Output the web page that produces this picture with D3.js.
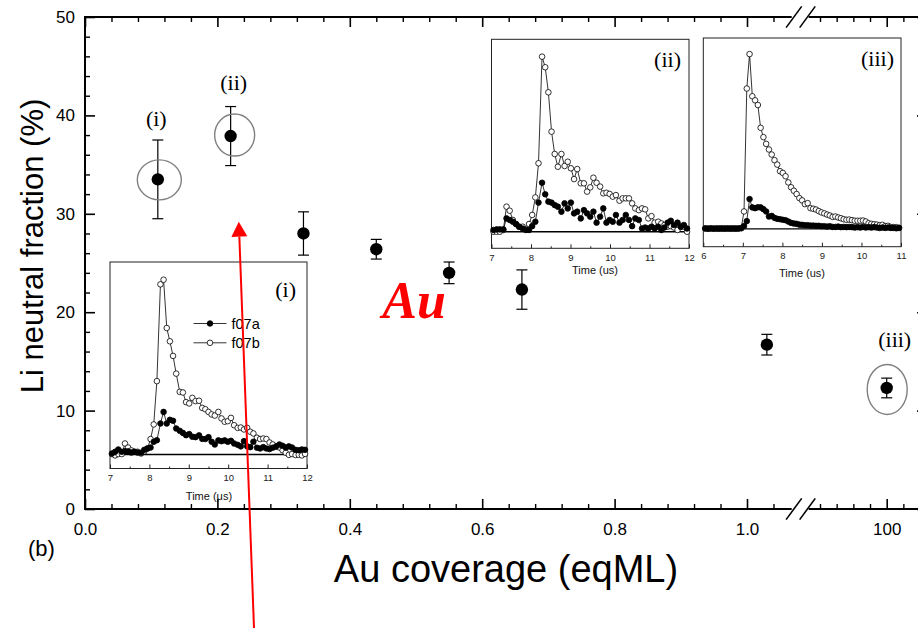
<!DOCTYPE html>
<html>
<head>
<meta charset="utf-8">
<script src="https://cdn.jsdelivr.net/npm/d3@7"></script>
<style>
  body { margin: 0; background: #fff; }
  svg { display: block; }
</style>
</head>
<body>
<svg id="chart" width="918" height="628"></svg>
<script>
// ---- Li neutral fraction versus Au coverage ----
const coverage = [0.11, 0.22, 0.33, 0.44, 0.55, 0.66, 1.03, 100];
const neutralFraction = [33.5, 37.9, 28.0, 26.4, 24.0, 22.3, 16.7, 12.3];
const fractionError = [4.0, 3.0, 2.2, 1.0, 1.1, 2.0, 1.05, 1.0];
const markedPoints = [0, 1, 7];
const markedLabels = ["(i)", "(ii)", "(iii)"];

const yTicks = [0, 10, 20, 30, 40, 50];
const xTicksLow = [0.0, 0.2, 0.4, 0.6, 0.8, 1.0];
const xTickLabelsLow = ["0.0", "0.2", "0.4", "0.6", "0.8", "1.0"];
const xTicksHigh = [100];
const xTickLabelsHigh = ["100"];
const xMinorHigh = [80, 85, 90, 95, 105, 110];

// ---- time-of-flight spectra (arb. units) ----
const timeA = [7.05, 7.13, 7.21, 7.30, 7.38, 7.46, 7.54, 7.62, 7.70, 7.79,
  7.87, 7.95, 8.03, 8.11, 8.19, 8.28, 8.36, 8.44, 8.52, 8.60,
  8.68, 8.77, 8.85, 8.93, 9.01, 9.09, 9.17, 9.26, 9.34, 9.42,
  9.50, 9.58, 9.66, 9.75, 9.83, 9.91, 9.99, 10.07, 10.15, 10.24,
  10.32, 10.40, 10.48, 10.56, 10.64, 10.73, 10.81, 10.89, 10.97, 11.05,
  11.13, 11.22, 11.30, 11.38, 11.46, 11.54, 11.62, 11.71, 11.79, 11.87, 11.95];

const f07aI = [0.5, 1.4, 2.6, 1.4, 1.7, 1.6, 1.0, 1.4, 1.0, 0.9,
  2.4, 3.1, 3.6, 6.6, 7.4, 16.1, 22.1, 16.1, 18.0, 17.5,
  13.5, 12.3, 11.2, 10.0, 10.6, 9.2, 9.0, 9.9, 8.1, 8.0,
  9.0, 6.6, 5.2, 7.3, 6.9, 7.3, 6.6, 7.1, 5.7, 5.0,
  4.2, 6.9, 4.2, 3.8, 6.6, 3.5, 3.1, 3.8, 3.1, 2.8,
  3.5, 4.2, 5.2, 4.5, 3.6, 4.2, 3.6, 2.4, 2.2, 2.6, 2.4];
const f07bI = [0.2, -0.5, 0.2, 0.2, 5.7, 3.6, 2.1, 1.4, 1.4, 0.5,
  1.6, 3.1, 8.0, 15.6, 38.1, 88.4, 90.8, 65.7, 58.8, 51.2,
  42.0, 32.5, 32.2, 27.2, 26.5, 29.4, 27.7, 27.9, 24.2, 23.5,
  22.1, 20.8, 20.2, 22.1, 18.7, 17.0, 17.3, 19.0, 15.2, 13.8,
  14.0, 13.0, 13.8, 11.8, 10.9, 8.7, 8.0, 8.3, 8.0, 6.2,
  5.2, 4.0, 3.6, 2.2, 0.9, -0.2, 0.2, -0.3, -0.2, -0.5, 0.3];

const f07aII = [0.9, 1.2, 1.2, 1.2, 6.9, 6.1, 5.2, 4.0, 2.6, 1.7,
  0.9, 0.9, 2.9, 5.2, 15.1, 25.4, 19.4, 15.6, 15.1, 13.8,
  13.0, 10.4, 14.7, 12.1, 15.1, 9.5, 10.4, 6.9, 11.2, 9.5,
  7.8, 10.4, 4.7, 7.8, 12.1, 4.7, 6.1, 5.2, 8.7, 4.7,
  6.1, 8.7, 6.1, 2.9, 6.9, 6.1, 1.7, 2.2, 1.7, 2.6,
  1.7, 2.6, 0.9, 2.2, 4.7, 5.7, 3.5, 4.7, 2.6, 3.5, 1.7];
const f07bII = [0, 0, 0, 0.9, 13.0, 10.9, 6.1, 4.0, 2.6, 2.6,
  1.2, 4.0, 8.7, 17.8, 35.5, 90.8, 85.3, 72.3, 51.9, 40.3,
  33.7, 40.3, 34.1, 36.3, 32.9, 27.3, 32.5, 25.1, 25.1, 20.8,
  23.0, 28.0, 25.4, 23.4, 19.9, 20.2, 19.6, 18.2, 19.0, 16.1,
  17.3, 17.3, 17.3, 14.7, 12.1, 11.2, 12.1, 11.6, 6.9, 8.1,
  4.7, 5.2, 4.3, 3.5, 2.6, 2.9, 2.2, 0.9, 2.6, 2.6, 0];

const timeB = [6.05, 6.12, 6.19, 6.26, 6.33, 6.40, 6.47, 6.54, 6.61, 6.68,
  6.75, 6.82, 6.89, 6.96, 7.03, 7.10, 7.17, 7.24, 7.31, 7.38,
  7.45, 7.52, 7.59, 7.66, 7.73, 7.80, 7.87, 7.94, 8.01, 8.08,
  8.15, 8.22, 8.29, 8.36, 8.43, 8.50, 8.57, 8.64, 8.71, 8.78,
  8.85, 8.92, 8.99, 9.06, 9.13, 9.20, 9.27, 9.34, 9.41, 9.48,
  9.55, 9.62, 9.69, 9.76, 9.83, 9.90, 9.97, 10.04, 10.11, 10.18,
  10.25, 10.32, 10.39, 10.46, 10.53, 10.60, 10.67, 10.74, 10.81, 10.88, 10.95];

const f07aIII = [0.2, 0.1, 0.2, 0.1, 0.2, 0.1, 0.2, 0.1, 0.2, 0.1,
  0.2, 0.1, 0.2, 0.3, 1.5, 4.0, 15.4, 11.1, 10.7, 11.2,
  11.1, 10.2, 9.0, 6.4, 6.7, 5.7, 5.2, 5.0, 4.7, 4.5,
  3.8, 3.1, 2.8, 2.6, 2.2, 2.1, 1.9, 1.9, 1.7, 1.7,
  1.6, 1.6, 1.4, 1.4, 1.2, 1.4, 1.0, 1.0, 1.2, 0.9,
  1.0, 0.9, 1.0, 0.9, 0.7, 0.9, 0.7, 1.0, 0.7, 0.9,
  0.7, 0.9, 0.7, 0.5, 0.7, 0.5, 0.7, 0.5, 0.5, 0.3, 0.5];
const f07bIII = [0.3, 0.2, 0.3, 0.2, 0.2, 0.3, 0.2, 0.3, 0.2, 0.3,
  0.2, 0.3, 0.2, 0.5, 9.0, 72.5, 90.3, 68.5, 66.4, 64.0,
  52.2, 47.4, 43.9, 41.0, 38.4, 35.5, 33.2, 29.8, 28.9, 27.2,
  24.0, 21.5, 19.7, 18.0, 15.9, 14.7, 12.8, 13.3, 10.7, 10.4,
  10.0, 9.2, 8.5, 8.0, 7.4, 6.9, 6.2, 6.4, 5.9, 5.5,
  5.0, 4.7, 4.8, 4.5, 4.2, 4.2, 4.2, 4.3, 3.8, 2.9,
  2.6, 2.4, 2.2, 1.9, 2.1, 1.4, 1.6, 1.0, 0.9, 0.9, 0.5];

const insetTicksA = [7, 8, 9, 10, 11, 12];
const insetTicksB = [6, 7, 8, 9, 10, 11];
const legendNames = ["f07a", "f07b"];

// ---- drawing ----
const SANS = "'Liberation Sans', Arial, Helvetica, sans-serif";
const SERIF = "'Liberation Serif', 'Times New Roman', Times, serif";
const svg = d3.select("#chart");

// broken x axis: linear low-coverage part, then a short segment around 100
const xLow = d3.scaleLinear().domain([0, 1]).range([85, 747]);
const xHigh = d3.scaleLinear().domain([80, 100]).range([820, 886.7]);
const y = d3.scaleLinear().domain([0, 50]).range([509, 17]);
const xAt = v => (v > 10 ? xHigh(v) : xLow(v));

const lowEnd = 1.066, highStart = 76.9, highEnd = 112.1;
const xL0 = xLow(0), xL1 = xLow(lowEnd), xH0 = xHigh(highStart), xH1 = xHigh(highEnd);
const yBot = y(0), yTop = y(50);

const axes = svg.append("g");

function tidy(g, w) {
  g.select(".domain").remove();
  g.selectAll(".tick line").attr("stroke", "#000").attr("stroke-width", w);
  g.selectAll("text").attr("font-family", SANS).attr("font-size", 17).attr("fill", "#000");
}

const minorLow = d3.range(0, 27).filter(i => i % 5 !== 0).map(i => i * 0.04);
const minorY = d3.range(0, 26).filter(i => i % 5 !== 0).map(i => i * 2);

// bottom axis
axes.append("g").attr("transform", `translate(0,${yBot})`)
  .call(d3.axisBottom(xLow).tickValues(xTicksLow).tickSize(-10).tickPadding(14)
    .tickFormat((d, i) => xTickLabelsLow[i])).call(g => tidy(g, 1.6));
axes.append("g").attr("transform", `translate(0,${yBot})`)
  .call(d3.axisBottom(xLow).tickValues(minorLow).tickSize(-5).tickFormat("")).call(g => tidy(g, 1.4));
axes.append("g").attr("transform", `translate(0,${yBot})`)
  .call(d3.axisBottom(xHigh).tickValues(xTicksHigh).tickSize(-10).tickPadding(14)
    .tickFormat((d, i) => xTickLabelsHigh[i])).call(g => tidy(g, 1.6));
axes.append("g").attr("transform", `translate(0,${yBot})`)
  .call(d3.axisBottom(xHigh).tickValues(xMinorHigh).tickSize(-5).tickFormat("")).call(g => tidy(g, 1.4));

// top axis (mirror ticks)
axes.append("g").attr("transform", `translate(0,${yTop})`)
  .call(d3.axisTop(xLow).tickValues(xTicksLow).tickSize(-10).tickFormat("")).call(g => tidy(g, 1.6));
axes.append("g").attr("transform", `translate(0,${yTop})`)
  .call(d3.axisTop(xLow).tickValues(minorLow).tickSize(-5).tickFormat("")).call(g => tidy(g, 1.4));
axes.append("g").attr("transform", `translate(0,${yTop})`)
  .call(d3.axisTop(xHigh).tickValues(xTicksHigh).tickSize(-10).tickFormat("")).call(g => tidy(g, 1.6));
axes.append("g").attr("transform", `translate(0,${yTop})`)
  .call(d3.axisTop(xHigh).tickValues(xMinorHigh).tickSize(-5).tickFormat("")).call(g => tidy(g, 1.4));

// left axis
axes.append("g").attr("transform", `translate(${xL0},0)`)
  .call(d3.axisLeft(y).tickValues(yTicks).tickSize(-10).tickPadding(10)).call(g => tidy(g, 1.6));
axes.append("g").attr("transform", `translate(${xL0},0)`)
  .call(d3.axisLeft(y).tickValues(minorY).tickSize(-5).tickFormat("")).call(g => tidy(g, 1.4));
// right axis
axes.append("g").attr("transform", `translate(${xH1},0)`)
  .call(d3.axisRight(y).tickValues(yTicks).tickSize(-10).tickFormat("")).call(g => tidy(g, 1.6));
axes.append("g").attr("transform", `translate(${xH1},0)`)
  .call(d3.axisRight(y).tickValues(minorY).tickSize(-5).tickFormat("")).call(g => tidy(g, 1.4));

// frame lines
const frame = [
  [xL0, yBot, xL0, yTop], [xH1, yBot, xH1, yTop],
  [xL0, yBot, xL1, yBot], [xH0, yBot, xH1, yBot],
  [xL0, yTop, xL1, yTop], [xH0, yTop, xH1, yTop]
];
axes.selectAll("line.frame").data(frame).join("line").attr("class", "frame")
  .attr("x1", d => d[0]).attr("y1", d => d[1]).attr("x2", d => d[2]).attr("y2", d => d[3])
  .attr("stroke", "#000").attr("stroke-width", 2).attr("stroke-linecap", "square");

// axis-break slashes
const slashX = [xL1 + 3.2, xH0 - 2.2];
[yBot, yTop].forEach(yy => {
  slashX.forEach(cx => {
    axes.append("line")
      .attr("x1", cx - 7.8).attr("y1", yy + 10.6).attr("x2", cx + 7.8).attr("y2", yy - 10.6)
      .attr("stroke", "#000").attr("stroke-width", 1.6);
  });
});

// ---- insets ----
function drawInset(cfg) {
  const g = svg.append("g");
  const xs = d3.scaleLinear().domain(cfg.xDomain).range([cfg.left, cfg.right]);
  const ys = d3.scaleLinear().domain(cfg.yDomain).range([cfg.bottom, cfg.top]);

  g.append("rect").attr("x", cfg.left).attr("y", cfg.top)
    .attr("width", cfg.right - cfg.left).attr("height", cfg.bottom - cfg.top)
    .attr("fill", "#fff").attr("stroke", "#222").attr("stroke-width", 1);

  const minor = cfg.ticks.slice(0, -1).map(t => t + 0.5);
  const ax = g.append("g").attr("transform", `translate(0,${cfg.bottom})`)
    .call(d3.axisBottom(xs).tickValues(cfg.ticks).tickSize(-4).tickPadding(6).tickFormat(d3.format("d")));
  ax.select(".domain").remove();
  ax.selectAll("line").attr("stroke", "#222");
  ax.selectAll("text").attr("font-family", SANS).attr("font-size", 9.5).attr("fill", "#222");
  const axm = g.append("g").attr("transform", `translate(0,${cfg.bottom})`)
    .call(d3.axisBottom(xs).tickValues(minor).tickSize(-2).tickFormat(""));
  axm.select(".domain").remove();
  axm.selectAll("line").attr("stroke", "#222");

  g.append("text").attr("x", cfg.timeX).attr("y", cfg.timeY).attr("text-anchor", "middle")
    .attr("font-family", SANS).attr("font-size", 11).attr("fill", "#111").text(cfg.timeLabel);

  // zero line
  g.append("line").attr("x1", cfg.left).attr("x2", cfg.right)
    .attr("y1", ys(0)).attr("y2", ys(0)).attr("stroke", "#000").attr("stroke-width", 1.4);

  const line = d3.line().x(d => xs(d[0])).y(d => ys(d[1]));
  const series = [
    { pts: cfg.time.map((t, i) => [t, cfg.open[i]]), fill: "#fff" },
    { pts: cfg.time.map((t, i) => [t, cfg.filled[i]]), fill: "#000" }
  ];
  series.forEach(s => {
    g.append("path").attr("d", line(s.pts)).attr("fill", "none")
      .attr("stroke", "#000").attr("stroke-width", 0.8);
    g.append("g").selectAll("circle").data(s.pts).join("circle")
      .attr("cx", d => xs(d[0])).attr("cy", d => ys(d[1])).attr("r", 2.8)
      .attr("fill", s.fill).attr("stroke", "#000").attr("stroke-width", 0.8);
  });

  g.append("text").attr("x", cfg.tagX).attr("y", cfg.tagY).attr("text-anchor", "end")
    .attr("font-family", SERIF).attr("font-size", 22).attr("fill", "#000").text(cfg.tag);

  if (cfg.legend) {
    const fills = ["#000", "#fff"];
    legendNames.forEach((name, i) => {
      const ly = cfg.legend.y + i * cfg.legend.gap;
      g.append("line").attr("x1", cfg.legend.x).attr("x2", cfg.legend.x + 33)
        .attr("y1", ly).attr("y2", ly).attr("stroke", "#000").attr("stroke-width", 0.8);
      g.append("circle").attr("cx", cfg.legend.x + 16.5).attr("cy", ly).attr("r", 2.8)
        .attr("fill", fills[i]).attr("stroke", "#000").attr("stroke-width", 0.8);
      g.append("text").attr("x", cfg.legend.x + 38).attr("y", ly + 5.3)
        .attr("font-family", SANS).attr("font-size", 14.5).attr("fill", "#000").text(name);
    });
  }
}

drawInset({
  left: 110, right: 307, top: 262, bottom: 468.5,
  xDomain: [7, 12], yDomain: [-7.3, 100], ticks: insetTicksA,
  time: timeA, filled: f07aI, open: f07bI,
  tag: "(i)", tagX: 296, tagY: 297,
  timeLabel: "Time (\u03bcs)", timeX: 209, timeY: 500,
  legend: { x: 193.5, y: 323.5, gap: 19.3 }
});
drawInset({
  left: 491.5, right: 689, top: 39.3, bottom: 248.3,
  xDomain: [7, 12], yDomain: [-8.6, 99.8], ticks: insetTicksA,
  time: timeA, filled: f07aII, open: f07bII,
  tag: "(ii)", tagX: 681, tagY: 67,
  timeLabel: "Time (us)", timeX: 595, timeY: 274
});
drawInset({
  left: 703.3, right: 901, top: 38, bottom: 246.7,
  xDomain: [6, 11], yDomain: [-9.2, 98.6], ticks: insetTicksB,
  time: timeB, filled: f07aIII, open: f07bIII,
  tag: "(iii)", tagX: 894, tagY: 66,
  timeLabel: "Time (us)", timeX: 802, timeY: 277
});

// ---- main data ----
const pts = coverage.map((c, i) => ({ x: xAt(c), y: y(neutralFraction[i]),
  lo: y(neutralFraction[i] - fractionError[i]), hi: y(neutralFraction[i] + fractionError[i]) }));
const dataG = svg.append("g");
const cap = 5.5;
pts.forEach(p => {
  dataG.append("line").attr("x1", p.x).attr("x2", p.x).attr("y1", p.lo).attr("y2", p.hi)
    .attr("stroke", "#000").attr("stroke-width", 1.2);
  [p.lo, p.hi].forEach(yy => dataG.append("line")
    .attr("x1", p.x - cap).attr("x2", p.x + cap).attr("y1", yy).attr("y2", yy)
    .attr("stroke", "#000").attr("stroke-width", 1.2));
});
dataG.selectAll("circle").data(pts).join("circle")
  .attr("cx", d => d.x).attr("cy", d => d.y).attr("r", 6.2).attr("fill", "#000");

// highlighted measurements (rings and tags)
const ring = { rx: [22, 20, 20], ry: [20, 21, 25], dx: [1.5, 4, 0.5], dy: [0.5, -1, 1.5] };
const tagOff = { dx: [-1.5, 3, 8], dy: [-53, -46, -41] };
markedPoints.forEach((idx, k) => {
  const p = pts[idx];
  dataG.append("ellipse").attr("cx", p.x + ring.dx[k]).attr("cy", p.y + ring.dy[k])
    .attr("rx", ring.rx[k]).attr("ry", ring.ry[k])
    .attr("fill", "none").attr("stroke", "#808080").attr("stroke-width", 1.4);
  dataG.append("text").attr("x", p.x + tagOff.dx[k]).attr("y", p.y + tagOff.dy[k])
    .attr("text-anchor", "middle").attr("font-family", SERIF).attr("font-size", 22)
    .attr("fill", "#000").text(markedLabels[k]);
});

// red arrow annotation
const arrowTail = [0.2553, -12.1], arrowTip = [0.2323, 29.2];
const tx = xLow(arrowTail[0]), ty = y(arrowTail[1]);
const hx = xLow(arrowTip[0]), hy = y(arrowTip[1]);
const len = Math.hypot(hx - tx, hy - ty), ux = (hx - tx) / len, uy = (hy - ty) / len;
const headLen = 15, headW = 8;
const bx = hx - ux * headLen, by = hy - uy * headLen;
svg.append("line").attr("x1", tx).attr("y1", ty).attr("x2", bx).attr("y2", by)
  .attr("stroke", "#ff0000").attr("stroke-width", 2);
svg.append("path")
  .attr("d", `M${hx},${hy}L${bx - uy * headW},${by + ux * headW}L${bx + uy * headW},${by - ux * headW}Z`)
  .attr("fill", "#ff0000");

// element label
svg.append("text").attr("x", xLow(0.449)).attr("y", y(19.4))
  .attr("font-family", SERIF).attr("font-size", 52).attr("font-weight", "bold")
  .attr("font-style", "italic").attr("fill", "#ff0000").text("Au");

// axis titles and panel tag
svg.append("text").attr("x", 506).attr("y", 582).attr("text-anchor", "middle")
  .attr("font-family", SANS).attr("font-size", 38).attr("fill", "#000").text("Au coverage (eqML)");
svg.append("text").attr("transform", "translate(42.5,246) rotate(-90)").attr("text-anchor", "middle")
  .attr("font-family", SANS).attr("font-size", 31).attr("fill", "#000").text("Li neutral fraction (%)");
svg.append("text").attr("x", 28).attr("y", 556)
  .attr("font-family", SANS).attr("font-size", 22).attr("fill", "#000").text("(b)");
</script>
</body>
</html>
